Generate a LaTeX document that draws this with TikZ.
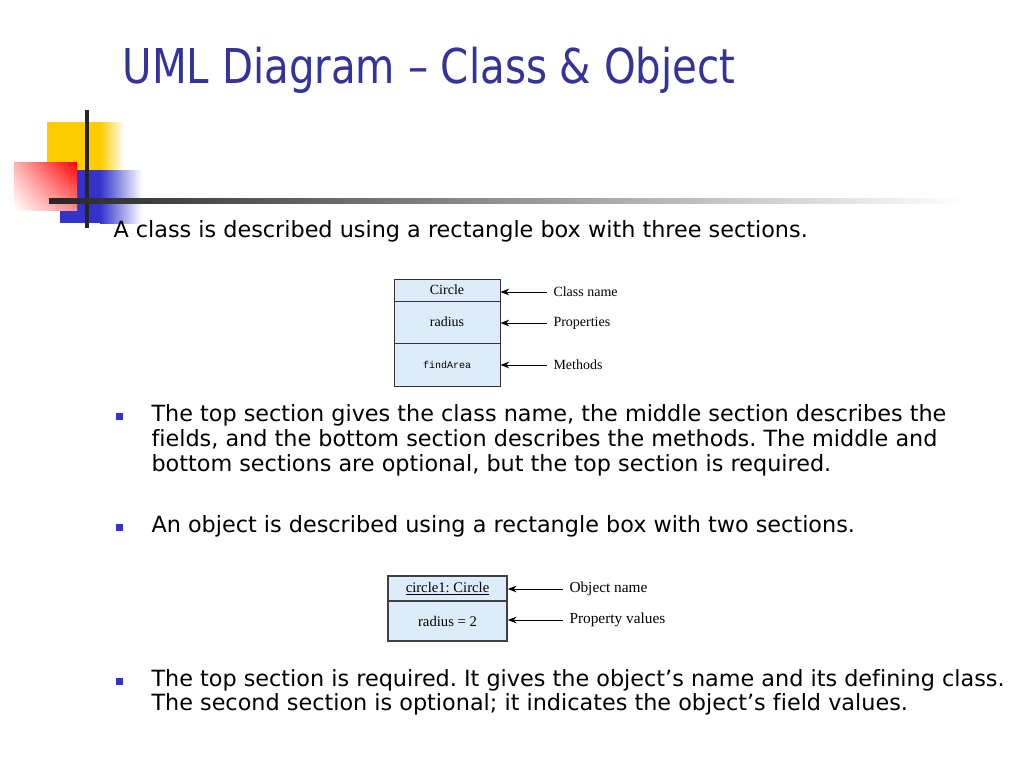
\documentclass[tikz,border=0pt]{standalone}
\usepackage{fontspec}
\setmainfont{DejaVu Sans}[Ligatures=NoCommon]
\newfontfamily\titlefont{DejaVu Sans}[FakeStretch=0.84]
\newfontfamily\umlserif{Liberation Serif}
\newfontfamily\umlmono{Liberation Mono}
\usetikzlibrary{arrows.meta,shadings}
\frenchspacing

\definecolor{titleblue}{RGB}{51,51,153}
\definecolor{bulletblue}{RGB}{51,51,204}
\definecolor{decoyellow}{RGB}{255,204,0}
\definecolor{boxfill}{RGB}{221,236,250}

\tikzset{every picture/.style={line width=0.75pt}}
\tikzset{
  slidetext/.style={anchor=base west, inner sep=0pt, font=\fontsize{16.75}{20}\selectfont},
  bullet/.style={fill=bulletblue, inner sep=0pt, minimum size=5.25pt},
  classcell/.style={draw=black!80, fill=boxfill, inner sep=0pt, minimum width=79.5pt, font=\umlserif\fontsize{10.5}{12}\selectfont},
  objcell/.style={draw=black!75, line width=1.3pt, fill=boxfill, inner sep=0pt, minimum width=89.25pt, font=\umlserif\fontsize{11}{13}\selectfont},
  umllabel/.style={anchor=west, inner sep=0pt, inner xsep=4.5pt, font=\umlserif\fontsize{10.5}{12}\selectfont},
  pointer/.style={-{Stealth[length=6.5pt,width=5pt]}, line width=0.75pt},
}

\begin{document}
\begin{tikzpicture}[x=0.75pt,y=0.75pt,yscale=-1,xscale=1]
	\useasboundingbox (0,0) rectangle (1024,768);

	%Decoration: yellow square
	\fill [decoyellow] (47,122) rectangle (100,170) ;
	\shade [left color=decoyellow, right color=white] (100,122) rectangle (124,170) ;
	%Decoration: blue square
	\fill [bulletblue] (60,170) rectangle (100,223) ;
	\shade [left color=bulletblue, right color=white] (100,170) rectangle (142,223) ;
	%Decoration: red square
	\shade [upper left=red!30!white, upper right=red, lower left=white, lower right=red!45!white] (14,162) rectangle (77,210) ;
	%Decoration: lines
	\draw [line width=2.4pt, black!85] (87,110) -- (87,228) ;
	\shade [left color=black!85, right color=white] (49,198) rectangle (965,203) ;

	% Title
	\draw (122,83) node [anchor=base west, inner sep=0pt, text=titleblue, font=\titlefont\fontsize{36}{40}\selectfont] (title) {UML Diagram – Class \& Object};

	% Text Node
	\draw (113,237) node [slidetext] (intro) {A class is described using a rectangle box with three sections.};

	%Class box
	\node [classcell, minimum height=16.5pt] (cname) at (447,290) {Circle};
	\node [classcell, minimum height=31.5pt] (cprop) at (447,322) {radius};
	\node [classcell, minimum height=32.25pt, font=\umlmono\fontsize{7.5}{9}\selectfont] (cmeth) at (447,364.5) {findArea};
	\node [umllabel] (lname) at (547,292) {Class name};
	\node [umllabel] (lprop) at (547,323) {Properties};
	\node [umllabel] (lmeth) at (547,365) {Methods};
	\draw [pointer] (lname.west) -- (lname.west -| cname.east) ;
	\draw [pointer] (lprop.west) -- (lprop.west -| cprop.east) ;
	\draw [pointer] (lmeth.west) -- (lmeth.west -| cmeth.east) ;

	%Bullet 1
	\node [bullet] (b1) at (119,416) {};
	\draw (151,421) node [slidetext] (t1a) {The top section gives the class name, the middle section describes the};
	\draw (151,446) node [slidetext] (t1b) {fields, and the bottom section describes the methods. The middle and};
	\draw (151,471) node [slidetext] (t1c) {bottom sections are optional, but the top section is required.};

	%Bullet 2
	\node [bullet] (b2) at (119,527) {};
	\draw (151,532) node [slidetext] (t2a) {An object is described using a rectangle box with two sections.};

	%Object box
	\node [objcell, minimum height=18.75pt] (oname) at (447.5,588.5) {\underline{circle1: Circle}};
	\node [objcell, minimum height=30pt] (oval) at (447.5,621) {radius = 2};
	\node [umllabel, font=\umlserif\fontsize{11.5}{13}\selectfont] (loname) at (563,589) {Object name};
	\node [umllabel, font=\umlserif\fontsize{11.5}{13}\selectfont] (loval) at (563,620) {Property values};
	\draw [pointer] (loname.west) -- (loname.west -| oname.east) ;
	\draw [pointer] (loval.west) -- (loval.west -| oval.east) ;

	%Bullet 3
	\node [bullet] (b3) at (119,681) {};
	\draw (151,686) node [slidetext] (t3a) {The top section is required. It gives the object’s name and its defining class.};
	\draw (151,710) node [slidetext] (t3b) {The second section is optional; it indicates the object’s field values.};

\end{tikzpicture}
\end{document}
